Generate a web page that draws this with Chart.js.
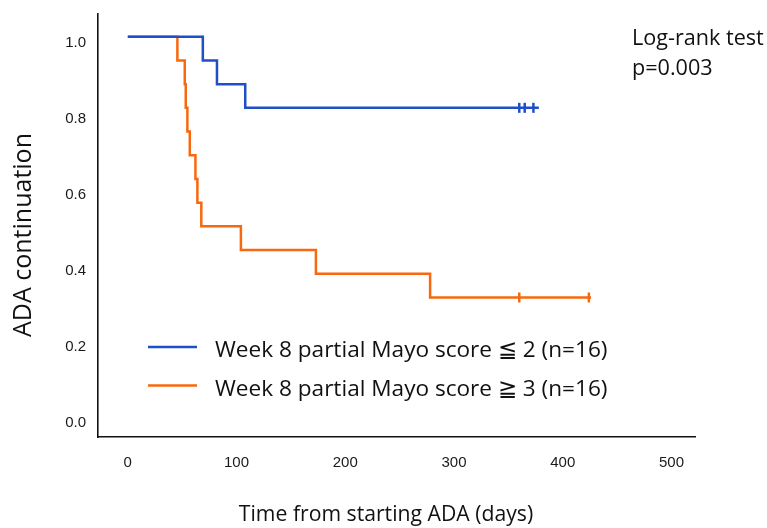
<!DOCTYPE html>
<html>
<head>
<meta charset="utf-8">
<script src="https://cdn.jsdelivr.net/npm/chart.js@4.4.1/dist/chart.umd.min.js"></script>
<style>
  html, body { margin: 0; padding: 0; background: #fff; }
  #wrap { width: 767px; height: 528px; }
</style>
</head>
<body>
<div id="wrap"><canvas id="km"></canvas></div>
<script>
// Kaplan-Meier steps (days, survival)
const lowTimes = [0, 69, 82, 108, 378];
const lowSurv = [1, 0.9375, 0.875, 0.8125, 0.8125];
const lowCensorTimes = [360, 365, 373];
const lowCensorSurv = [0.8125, 0.8125, 0.8125];

const highTimes = [0, 45.6, 52.4, 53.3, 54.8, 57, 62.2, 64, 67.6, 104, 173, 278, 426];
const highSurv = [1, 0.9375, 0.875, 0.8125, 0.75, 0.6875, 0.625, 0.5625, 0.5, 0.4375, 0.375, 0.3125, 0.3125];
const highCensorTimes = [360, 424];
const highCensorSurv = [0.3125, 0.3125];

const xTicks = [0, 100, 200, 300, 400, 500];
const yTicks = [0, 0.2, 0.4, 0.6, 0.8, 1.0];

const seriesLabels = ['Week 8 partial Mayo score \u2266 2 (n=16)', 'Week 8 partial Mayo score \u2267 3 (n=16)'];
const testLines = ['Log-rank test', 'p=0.003'];
const xTitle = 'Time from starting ADA (days)';
const yTitle = 'ADA continuation';

const BLUE = '#1f4fc6';
const ORANGE = '#f7680f';
const TEXT_FONT = '"Open Sans", "Noto Sans", sans-serif';

const toPoints = (xs, ys) => xs.map((x, i) => ({ x: x, y: ys[i] }));

// legend, test result and axis titles drawn onto the canvas
const annotations = {
  id: 'annotations',
  afterDraw(chart) {
    const c = chart.ctx;
    c.save();
    c.fillStyle = '#111';
    c.textBaseline = 'alphabetic';
    // legend
    [BLUE, ORANGE].forEach((col, i) => {
      const y = 347 + i * 38.5;
      c.strokeStyle = col;
      c.lineWidth = 2.5;
      c.beginPath();
      c.moveTo(148, y);
      c.lineTo(197, y);
      c.stroke();
      c.font = '22.6px ' + TEXT_FONT;
      c.textAlign = 'left';
      c.fillText(seriesLabels[i], 215, y + 10);
    });
    // log-rank
    c.font = '21.6px ' + TEXT_FONT;
    c.fillText(testLines[0], 632, 45);
    c.fillText(testLines[1], 632, 75);
    // x title
    c.textAlign = 'center';
    c.font = '21.2px ' + TEXT_FONT;
    c.fillText(xTitle, 386, 521);
    // y title
    c.font = '25px ' + TEXT_FONT;
    c.translate(31, 235);
    c.rotate(-Math.PI / 2);
    c.fillText(yTitle, 0, 0);
    c.restore();
  }
};

new Chart(document.getElementById('km'), {
  type: 'line',
  data: {
    datasets: [
      {
        data: toPoints(lowTimes, lowSurv),
        borderColor: BLUE,
        borderWidth: 2.5,
        stepped: 'before',
        pointRadius: 0,
        fill: false
      },
      {
        data: toPoints(highTimes, highSurv),
        borderColor: ORANGE,
        borderWidth: 2.5,
        stepped: 'before',
        pointRadius: 0,
        fill: false
      },
      {
        data: toPoints(lowCensorTimes, lowCensorSurv),
        showLine: false,
        pointStyle: 'line',
        rotation: 90,
        pointRadius: 5,
        borderColor: BLUE,
        borderWidth: 2.5
      },
      {
        data: toPoints(highCensorTimes, highCensorSurv),
        showLine: false,
        pointStyle: 'line',
        rotation: 90,
        pointRadius: 5,
        borderColor: ORANGE,
        borderWidth: 2.5
      }
    ]
  },
  options: {
    responsive: true,
    maintainAspectRatio: false,
    animation: false,
    layout: { padding: { top: 14, right: 72, left: 0, bottom: 0 } },
    plugins: { legend: { display: false }, tooltip: { enabled: false } },
    scales: {
      x: {
        type: 'linear',
        min: -27.4,
        max: 521.6,
        afterBuildTicks: (axis) => { axis.ticks = xTicks.map(v => ({ value: v })); },
        afterFit: (axis) => { axis.height = 91; },
        grid: { display: false },
        border: { display: true, color: '#111', width: 1.6 },
        ticks: {
          padding: 9,
          color: '#1a1a1a',
          font: { family: '"Liberation Sans", Arial, sans-serif', size: 15 },
          maxRotation: 0
        }
      },
      y: {
        min: -0.0554,
        max: 1.0599,
        afterBuildTicks: (axis) => { axis.ticks = yTicks.map(v => ({ value: v })); },
        afterFit: (axis) => { axis.width = 98; },
        grid: { display: false },
        border: { display: true, color: '#111', width: 1.6 },
        ticks: {
          padding: 4,
          labelOffset: 6.5,
          color: '#1a1a1a',
          font: { family: '"Liberation Sans", Arial, sans-serif', size: 15 },
          callback: (v) => v.toFixed(1)
        }
      }
    }
  },
  plugins: [annotations]
});
</script>
</body>
</html>
